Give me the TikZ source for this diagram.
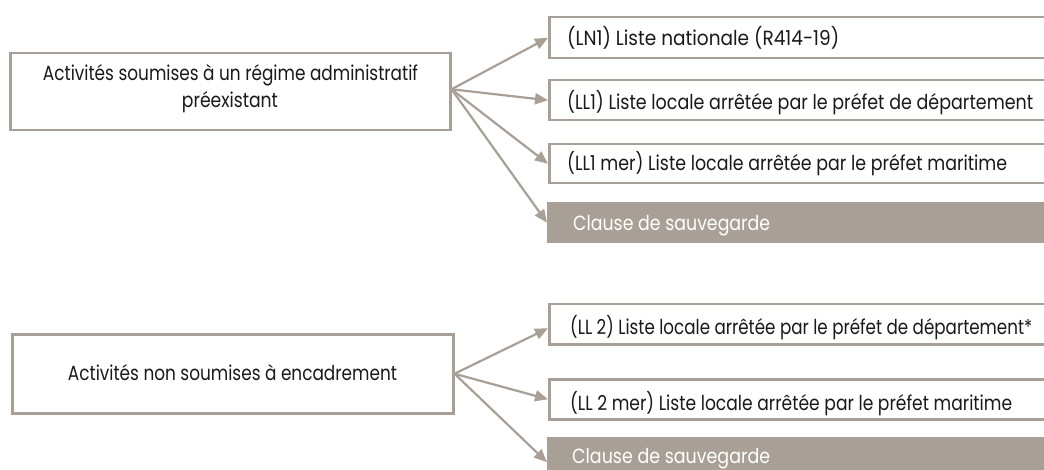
\documentclass[tikz,border=0pt]{standalone}
\usepackage{graphicx}
\usepackage{fontspec}
\setmainfont{Poppins}
\usetikzlibrary{arrows.meta}
\definecolor{taupe}{RGB}{168,159,150}
\definecolor{ink}{RGB}{26,26,26}
\newcommand\fw[2]{\resizebox{#1}{\height}{#2}}
\begin{document}
\begin{tikzpicture}[x=1pt,y=-1pt,
  frame/.style={draw=taupe, line width=2.5pt, fill=white, inner sep=0pt, anchor=north west},
  shadebox/.style={fill=taupe, draw=none, inner sep=0pt, anchor=north west},
  lbl/.style={inner sep=0pt, font=\fontsize{20.5}{24}\selectfont, text=ink},
  wlbl/.style={lbl, text=white},
  arr/.style={draw=taupe, line width=2.2pt, -{Triangle[length=13pt,width=11pt]}}]
\useasboundingbox (0,0) rectangle (1044,470);
% left boxes
\node[frame, minimum width=440pt, minimum height=77pt] (A) at (9,52) {};
\node[frame, minimum width=441pt, minimum height=79pt] (B) at (11,333) {};
% right boxes (top group)
\node[frame, minimum width=520pt, minimum height=41pt] (R1) at (548,16) {};
\node[frame, minimum width=520pt, minimum height=40pt] (R2) at (548,79) {};
\node[frame, minimum width=520pt, minimum height=39pt] (R3) at (548,143) {};
\node[shadebox, minimum width=520pt, minimum height=41pt] (C1) at (547,202) {};
% right boxes (bottom group)
\node[frame, minimum width=520pt, minimum height=40pt] (R4) at (548,303) {};
\node[frame, minimum width=520pt, minimum height=40pt] (R5) at (548,378) {};
\node[shadebox, minimum width=520pt, minimum height=40pt] (C2) at (547,437) {};
% texts
\node[lbl, anchor=base] (tA1) at (230.5,81) {\fw{375pt}{Activités soumises à un régime administratif}};
\node[lbl, anchor=base] (tA2) at (230,108) {\fw{96pt}{préexistant}};
\node[lbl, anchor=base] (tB) at (232.5,380) {\fw{329pt}{Activités non soumises à encadrement}};
\node[lbl, anchor=base west] (t1) at (567,46) {\fw{272pt}{(LN1) Liste nationale (R414-19)}};
\node[lbl, anchor=base west] (t2) at (567,110) {\fw{466pt}{(LL1) Liste locale arrêtée par le préfet de département}};
\node[lbl, anchor=base west] (t3) at (567,171) {\fw{440pt}{(LL1 mer) Liste locale arrêtée par le préfet maritime}};
\node[wlbl, anchor=base west] (tc1) at (573,231) {\fw{197pt}{Clause de sauvegarde}};
\node[lbl, anchor=base west] (t4) at (570,335) {\fw{462pt}{(LL 2) Liste locale arrêtée par le préfet de département*}};
\node[lbl, anchor=base west] (t5) at (570,410) {\fw{442pt}{(LL 2 mer) Liste locale arrêtée par le préfet maritime}};
\node[wlbl, anchor=base west] (tc2) at (572,463) {\fw{198pt}{Clause de sauvegarde}};
% arrows
\coordinate (sA) at ([yshift=2.5pt]A.east);
\draw[arr] (sA) -- (R1.west);
\draw[arr] (sA) -- (R2.west);
\draw[arr] (sA) -- (R3.west);
\draw[arr] (sA) -- (C1.west);
\draw[arr] (B.east) -- ([yshift=-4pt]R4.west);
\draw[arr] (B.east) -- (R5.west);
\draw[arr] (B.east) -- ([yshift=-5pt]C2.west);
\end{tikzpicture}
\end{document}
